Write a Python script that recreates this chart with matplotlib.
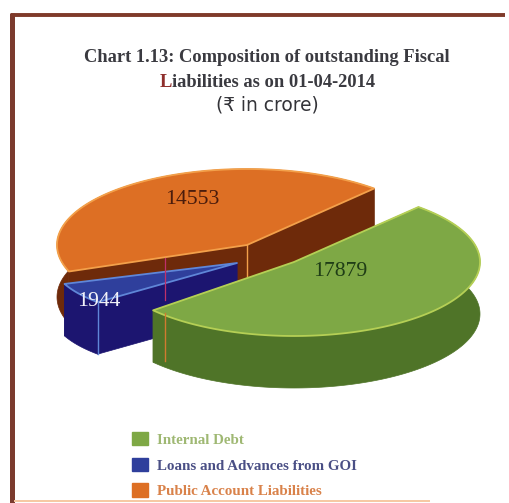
import numpy as np
import matplotlib
matplotlib.use("Agg")
import matplotlib.pyplot as plt
from matplotlib.patches import Polygon, Patch

# Outstanding fiscal liabilities, in crore of rupees
categories = ["Internal Debt", "Loans and Advances from GOI", "Public Account Liabilities"]
values = [17879, 1944, 14553]
value_labels = ["17879", "1944", "14553"]

top_colors = ["#7ea845", "#2f3f9c", "#dd6f24"]
wall_colors = ["#4f7428", "#1c1570", "#6e2a0a"]
edge_colors = ["#b5cf55", "#5f86d8", "#f3a04a"]
legend_text = ["#9fb873", "#4a4f85", "#d9824a"]
label_colors = ["#1f3d16", "#f2f2f8", "#4a1c0c"]

W, H = 510, 503
fig = plt.figure(figsize=(W / 100, H / 100), dpi=100, facecolor="white")
ax = fig.add_axes([0, 0, 1, 1])
ax.set_xlim(0, W)
ax.set_ylim(H, 0)
ax.axis("off")

# Panel frame
ax.plot([12.5, 12.5], [13, 503], color="#7b3b2e", lw=3.6, solid_capstyle="butt")
ax.plot([11, 505], [14.5, 14.5], color="#7f3a2a", lw=2.8, solid_capstyle="butt")
ax.plot([14, 430], [500.5, 500.5], color="#f6c8a2", lw=1.4, solid_capstyle="butt")

# Pie projection: each slice has its own apex and radii
START = 48.0
DEPTH = 52.0
geometry = {
    0: dict(c=(294.0, 262.0), rx=186.0, ry=74.0),
    1: dict(c=(237.0, 263.0), rx=184.0, ry=60.0),
    2: dict(c=(247.0, 245.0), rx=190.0, ry=76.0),
}
sweeps = 360.0 * np.array(values) / sum(values)
# Public account runs anticlockwise from START, then loans, then internal debt
spans = {
    2: (START, START + sweeps[2]),
    1: (START + sweeps[2], START + sweeps[2] + sweeps[1]),
    0: (START + sweeps[2] + sweeps[1], START + 360.0),
}
layer = {2: 2, 1: 4, 0: 6}


def rim(i, n=160):
    a0, a1 = spans[i]
    t = np.radians(np.linspace(a0, a1, n))
    g = geometry[i]
    return np.column_stack([g["c"][0] + g["rx"] * np.cos(t), g["c"][1] - g["ry"] * np.sin(t)])


def draw_slice(i):
    c = np.array(geometry[i]["c"])
    arc = rim(i)
    drop = np.array([0.0, DEPTH])
    z = layer[i]
    wall = dict(facecolor=wall_colors[i], edgecolor=wall_colors[i], lw=0.5, zorder=z)
    # inner radial walls
    for end in (arc[0], arc[-1]):
        ax.add_patch(Polygon([c, end, end + drop, c + drop], closed=True, **wall))
    # outer rim wall
    ax.add_patch(Polygon(np.vstack([arc, (arc + drop)[::-1]]), closed=True, **wall))
    # top face
    ax.add_patch(Polygon(np.vstack([c, arc]), closed=True, facecolor=top_colors[i],
                         edgecolor=edge_colors[i], lw=1.3, joinstyle="round", zorder=z + 0.5))


for i in (2, 1, 0):
    draw_slice(i)

# Seam between the two inner walls of the public account slice
c2 = geometry[2]["c"]
ax.plot([c2[0], c2[0]], [c2[1], c2[1] + DEPTH], color="#f3a04a", lw=1.0, zorder=2.7)
# Front corner of the loans slice
front = rim(1)[-1]
ax.plot([front[0], front[0]], [front[1], front[1] + DEPTH], color="#5f86d8", lw=1.0, zorder=4.7)
# Thin vertical seams
ax.plot([165, 165], [258, 300], color="#c0306a", lw=0.9, zorder=4.8)
ax.plot([165, 165], [313, 361], color="#d07a30", lw=1.0, zorder=6.7)

label_style = dict(ha="center", va="center", family="Liberation Serif", fontsize=15.6, zorder=8)
ax.text(192, 200, value_labels[2], color=label_colors[2], **label_style)
ax.text(99, 301, value_labels[1], color=label_colors[1], **label_style)
ax.text(340, 271, value_labels[0], color=label_colors[0], **label_style)

# Title block
serif = dict(family="Liberation Serif", weight="bold", fontsize=13.3, va="center")
ax.text(267, 57, "Chart 1.13: Composition of outstanding Fiscal", ha="center", color="#3a3a40", **serif)
first = ax.text(160, 82, "L", ha="left", color="#8f2f2c", **serif)
fig.canvas.draw()
x_next = ax.transData.inverted().transform((first.get_window_extent().x1, 0))[0]
ax.text(x_next, 82, "iabilities as on 01-04-2014", ha="left", color="#3a3a40", **serif)
ax.text(267, 105, "(₹ in crore)", ha="center", va="center", family="DejaVu Sans",
        fontsize=13.4, color="#333338")

# Legend
handles = [Patch(facecolor=c, edgecolor=c) for c in top_colors]
ax.legend(handles, categories, loc="upper left", bbox_to_anchor=(132 / W, 1 - 432 / H),
          bbox_transform=ax.transAxes, frameon=False, handlelength=1.07, handleheight=1.0,
          handletextpad=0.62, labelspacing=0.72, borderpad=0, borderaxespad=0,
          prop=dict(family="Liberation Serif", weight="bold", size=10.8),
          labelcolor=legend_text)

fig.savefig("out.png", dpi=100, facecolor="white")
